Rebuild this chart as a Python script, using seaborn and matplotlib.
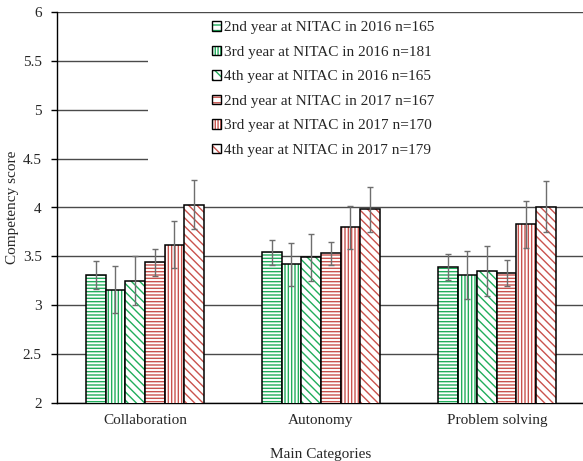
import matplotlib
matplotlib.use("Agg")
import matplotlib.pyplot as plt
import matplotlib.colors as mcolors
from matplotlib.patches import Patch, Rectangle
import seaborn as sns
import pandas as pd
import numpy as np

categories = ["Collaboration", "Autonomy", "Problem solving"]
groups = [
    "2nd year at NITAC in 2016 n=165",
    "3rd year at NITAC in 2016 n=181",
    "4th year at NITAC in 2016 n=165",
    "2nd year at NITAC in 2017 n=167",
    "3rd year at NITAC in 2017 n=170",
    "4th year at NITAC in 2017 n=179",
]
means_2nd_2016 = [3.31, 3.54, 3.39]
means_3rd_2016 = [3.16, 3.42, 3.31]
means_4th_2016 = [3.25, 3.49, 3.35]
means_2nd_2017 = [3.44, 3.53, 3.33]
means_3rd_2017 = [3.62, 3.80, 3.83]
means_4th_2017 = [4.03, 3.98, 4.01]
err_2nd_2016 = [0.14, 0.13, 0.13]
err_3rd_2016 = [0.24, 0.22, 0.25]
err_4th_2016 = [0.25, 0.24, 0.26]
err_2nd_2017 = [0.14, 0.12, 0.13]
err_3rd_2017 = [0.24, 0.22, 0.24]
err_4th_2017 = [0.25, 0.23, 0.26]
yticks = [2, 2.5, 3, 3.5, 4, 4.5, 5, 5.5, 6]
ytick_labels = ["2", "2.5", "3", "3.5", "4", "4.5", "5", "5.5", "6"]

all_means = [means_2nd_2016, means_3rd_2016, means_4th_2016,
             means_2nd_2017, means_3rd_2017, means_4th_2017]
all_errs = [err_2nd_2016, err_3rd_2016, err_4th_2016,
            err_2nd_2017, err_3rd_2017, err_4th_2017]

GREEN = "#21ad5c"
RED = "#c9524d"
hatch_colors = [GREEN, GREEN, GREEN, RED, RED, RED]
hatches = ["-----", "|||||", "\\\\\\\\", "-----", "|||||", "\\\\\\\\"]
legend_hatches = ["---", "||||||", "\\\\\\", "---", "||||||", "\\\\\\"]

rows = []
for g, ms in zip(groups, all_means):
    for c, m in zip(categories, ms):
        rows.append({"Category": c, "Group": g, "Score": m})
df = pd.DataFrame(rows)

sns.set_theme(style="white")
plt.rcParams["font.family"] = ["Liberation Serif", "DejaVu Serif"]
plt.rcParams["hatch.linewidth"] = 1.0

FS = 11

fig = plt.figure(figsize=(5.83, 4.61), dpi=100)
ax = fig.add_axes([57 / 583, 1 - 403 / 461, 1 - 57 / 583 + 0.003, (403 - 12) / 461])

sns.barplot(data=df, x="Category", y="Score", hue="Group", order=categories,
            hue_order=groups, width=0.67, errorbar=None, ax=ax,
            palette=["white"] * 6, legend=False, zorder=3)


def set_hatch_color(p, col):
    rgba = mcolors.to_rgba(col)
    if hasattr(p, "set_hatchcolor"):
        p.set_hatchcolor(rgba)
    else:
        p._hatch_color = rgba


bar_containers = list(ax.containers)
for i, cont in enumerate(bar_containers):
    xs = []
    for bar in cont.patches:
        bar.set_facecolor("white")
        bar.set_edgecolor("black")
        bar.set_linewidth(1.1)
        bar.set_hatch(hatches[i])
        set_hatch_color(bar, hatch_colors[i])
        xs.append(bar.get_x() + bar.get_width() / 2)
    ax.errorbar(xs, all_means[i], yerr=all_errs[i], fmt="none",
                ecolor="#6e6e6e", elinewidth=1.0, capsize=2, capthick=1.0, zorder=4)

ax.set_ylim(2, 6)
ax.set_xlim(-0.5, 2.5)
ax.set_yticks(yticks)
ax.set_yticklabels(ytick_labels)
ax.yaxis.grid(True, color="#4a4a4a", linewidth=1.0, zorder=0)
ax.xaxis.grid(False)
ax.set_axisbelow(True)
for s in ["top", "right"]:
    ax.spines[s].set_visible(False)
for s in ["left", "bottom"]:
    ax.spines[s].set_visible(True)
    ax.spines[s].set_color("black")
    ax.spines[s].set_linewidth(1.0)
ax.tick_params(axis="y", which="major", left=True, length=4, width=1,
               color="black", labelsize=FS, pad=7, direction="out")
ax.tick_params(axis="x", bottom=False, labelsize=FS, pad=2)
ax.set_xlabel("Main Categories", fontsize=FS, labelpad=15)
ax.set_ylabel("Competency score", fontsize=FS, labelpad=3)

# white legend area covering gridlines
ax.add_patch(Rectangle(((148 - 57) / 526, 1 - 158 / 391), 1.0, 154 / 391,
                       transform=ax.transAxes, facecolor="white",
                       edgecolor="none", zorder=1.5, clip_on=False))

handles = []
for i in range(6):
    p = Patch(facecolor="white", edgecolor="black", linewidth=1.0,
              hatch=legend_hatches[i])
    handles.append(p)
leg = ax.legend(handles, groups, loc="upper left",
                bbox_to_anchor=((211 - 57) / 526, 1 - 9 / 391),
                frameon=False, fontsize=FS, handlelength=0.6,
                handleheight=0.6, handletextpad=0.25, labelspacing=0.74,
                borderaxespad=0, borderpad=0)
leg.set_zorder(5)
for i, h in enumerate(leg.legend_handles):
    set_hatch_color(h, hatch_colors[i])

fig.savefig("out.png", dpi=100)
